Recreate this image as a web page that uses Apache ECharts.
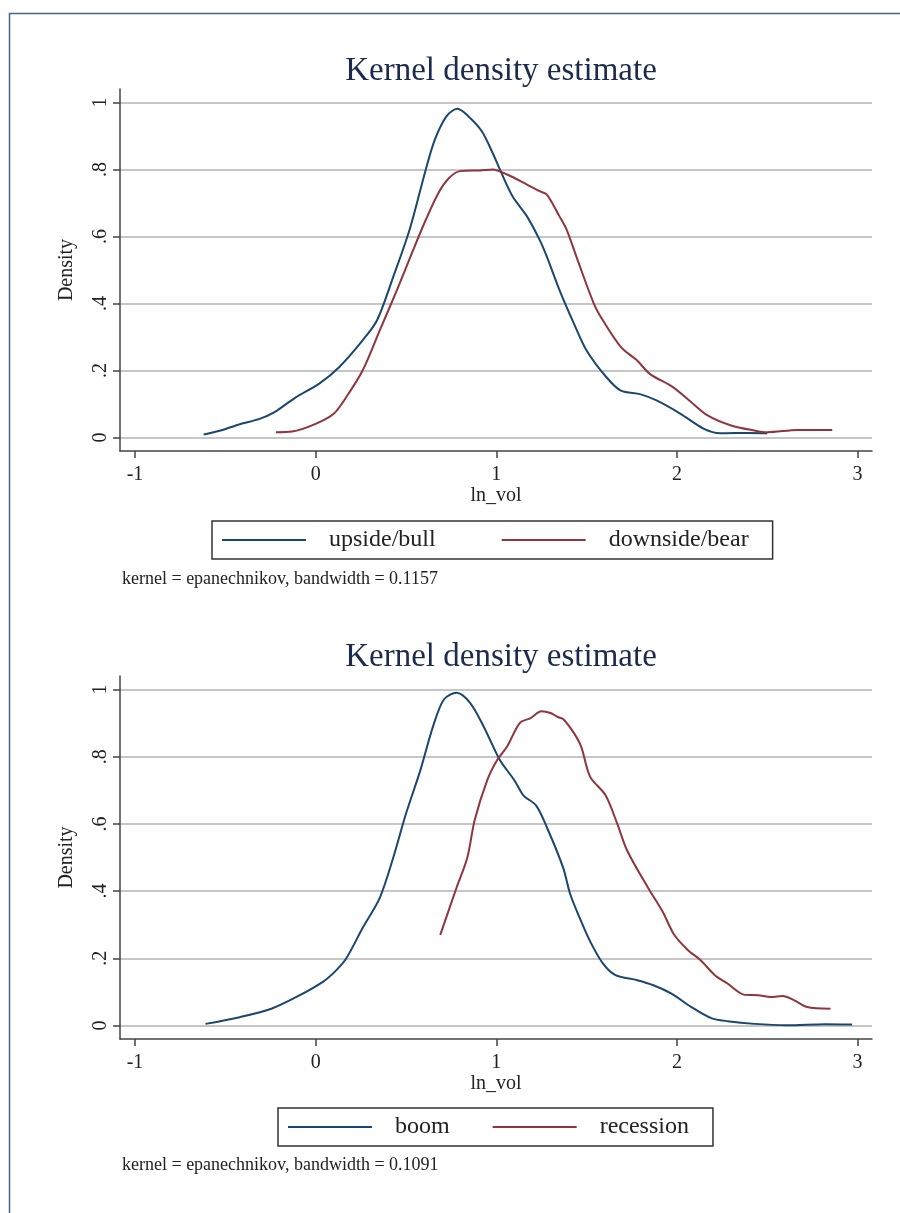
<!DOCTYPE html>
<html>
<head>
<meta charset="utf-8">
<script src="https://cdn.jsdelivr.net/npm/echarts@6/dist/echarts.min.js"></script>
<style>
  html, body { margin: 0; padding: 0; background: #fff; }
  #chart { width: 900px; height: 1213px; }
</style>
</head>
<body>
<div id="chart"></div>
<script>
// density curves, [ln_vol, density]
var upsideBull = [
  [-0.62, 0.009], [-0.52, 0.022], [-0.42, 0.04], [-0.31, 0.056], [-0.23, 0.075], [-0.11, 0.12],
  [0.02, 0.161], [0.13, 0.21], [0.26, 0.29], [0.34, 0.35], [0.43, 0.48], [0.52, 0.62],
  [0.61, 0.80], [0.66, 0.889], [0.725, 0.959], [0.785, 0.981], [0.845, 0.959], [0.92, 0.914],
  [0.98, 0.849], [1.02, 0.80], [1.09, 0.72], [1.17, 0.66], [1.24, 0.59], [1.28, 0.54],
  [1.35, 0.44], [1.43, 0.34], [1.50, 0.26], [1.61, 0.18], [1.69, 0.14], [1.80, 0.129],
  [1.89, 0.11], [2.02, 0.071], [2.15, 0.026], [2.24, 0.013], [2.40, 0.014], [2.50, 0.013]
];
var downsideBear = [
  [-0.22, 0.016], [-0.13, 0.018], [0.0, 0.041], [0.10, 0.071], [0.17, 0.121], [0.26, 0.20],
  [0.355, 0.32], [0.45, 0.44], [0.54, 0.56], [0.61, 0.65], [0.68, 0.73], [0.74, 0.775],
  [0.80, 0.795], [0.91, 0.797], [0.98, 0.80], [1.06, 0.785], [1.17, 0.755], [1.24, 0.735],
  [1.28, 0.725], [1.35, 0.66], [1.39, 0.62], [1.45, 0.53], [1.54, 0.40], [1.59, 0.35],
  [1.69, 0.27], [1.78, 0.23], [1.85, 0.19], [1.98, 0.15], [2.07, 0.11], [2.17, 0.066],
  [2.30, 0.036], [2.43, 0.021], [2.50, 0.016], [2.67, 0.023], [2.86, 0.023]
];
var boom = [
  [-0.61, 0.005], [-0.42, 0.025], [-0.245, 0.05], [-0.106, 0.085], [0.04, 0.13], [0.115, 0.165],
  [0.17, 0.20], [0.26, 0.29], [0.355, 0.38], [0.43, 0.50], [0.50, 0.63], [0.58, 0.76],
  [0.65, 0.89], [0.71, 0.97], [0.78, 0.99], [0.855, 0.96], [0.93, 0.89], [1.02, 0.79],
  [1.10, 0.73], [1.15, 0.685], [1.22, 0.655], [1.28, 0.59], [1.37, 0.47], [1.41, 0.39],
  [1.47, 0.31], [1.52, 0.25], [1.59, 0.185], [1.66, 0.15], [1.78, 0.135], [1.87, 0.12],
  [1.97, 0.095], [2.08, 0.055], [2.19, 0.022], [2.28, 0.013], [2.43, 0.005], [2.61, 0.001],
  [2.82, 0.004], [2.97, 0.003]
];
var recession = [
  [0.69, 0.27], [0.78, 0.41], [0.84, 0.50], [0.88, 0.61], [0.95, 0.73], [1.005, 0.79],
  [1.06, 0.83], [1.13, 0.90], [1.19, 0.915], [1.25, 0.935], [1.30, 0.93], [1.34, 0.918],
  [1.37, 0.912], [1.43, 0.87], [1.47, 0.83], [1.52, 0.74], [1.605, 0.685], [1.67, 0.60],
  [1.725, 0.52], [1.84, 0.41], [1.92, 0.34], [1.985, 0.27], [2.06, 0.225], [2.13, 0.195],
  [2.21, 0.15], [2.28, 0.125], [2.37, 0.092], [2.45, 0.09], [2.52, 0.085], [2.585, 0.088],
  [2.65, 0.075], [2.72, 0.055], [2.85, 0.05]
];

var xTicks = [-1, 0, 1, 2, 3];
var yTicks = [0, 0.2, 0.4, 0.6, 0.8, 1];
var legendTop = ['upside/bull', 'downside/bear'];
var legendBottom = ['boom', 'recession'];
var notes = ['kernel = epanechnikov, bandwidth = 0.1157', 'kernel = epanechnikov, bandwidth = 0.1091'];

var FONT = '"Liberation Serif", "DejaVu Serif", serif';
var BLUE = '#1a476f';
var RED = '#90353b';

var myChart = echarts.init(document.getElementById('chart'));

function yLabel(v) {
  if (v === 0) return '0';
  if (v === 1) return '1';
  return String(+v.toFixed(1)).replace('0.', '.');
}

function makeX(idx) {
  return {
    type: 'value', gridIndex: idx, min: -1.083, max: 3.08,
    name: 'ln_vol', nameLocation: 'middle', nameGap: 33,
    nameTextStyle: { fontFamily: FONT, fontSize: 20, color: '#222' },
    axisLine: { show: true, onZero: false, lineStyle: { color: '#444', width: 1.5 } },
    axisTick: { show: true, length: 7, customValues: xTicks, lineStyle: { color: '#444', width: 1.5 } },
    axisLabel: { customValues: xTicks, fontFamily: FONT, fontSize: 20, color: '#222', margin: 14 },
    splitLine: { show: false }
  };
}

function makeY(idx) {
  return {
    type: 'value', gridIndex: idx, min: -0.04, max: 1.04,
    name: 'Density', nameLocation: 'middle', nameGap: 43, nameRotate: 90,
    nameTextStyle: { fontFamily: FONT, fontSize: 20, color: '#222' },
    axisLine: { show: true, onZero: false, lineStyle: { color: '#444', width: 1.5 } },
    axisTick: { show: true, length: 7, customValues: yTicks, lineStyle: { color: '#444', width: 1.5 } },
    axisLabel: { customValues: yTicks, rotate: 90, formatter: yLabel, fontFamily: FONT, fontSize: 20, color: '#222', margin: 9 },
    splitLine: { show: true, lineStyle: { color: '#c6c6c6', width: 2 } }
  };
}

function makeLegend(names, left, top, gap) {
  return {
    data: names, left: left, top: top,
    orient: 'horizontal', icon: 'rect', itemWidth: 84, itemHeight: 2, itemGap: gap,
    padding: [7, 24, 7, 10],
    borderColor: '#333', borderWidth: 1.5,
    textStyle: { fontFamily: FONT, fontSize: 24, color: '#222', padding: [0, 0, 0, 18] }
  };
}

function makeLine(name, data, color, xi) {
  return {
    name: name, type: 'line', xAxisIndex: xi, yAxisIndex: xi,
    data: data, showSymbol: false, symbol: 'none', smooth: 0.3,
    lineStyle: { color: color, width: 2 }, itemStyle: { color: color },
    emphasis: { disabled: true }
  };
}

var option = {
  backgroundColor: '#fff',
  animation: false,
  title: [
    { text: 'Kernel density estimate', left: 496, top: 50, textAlign: 'center',
      textStyle: { fontFamily: FONT, fontSize: 33, fontWeight: 'normal', color: '#1c2b4d' } },
    { text: 'Kernel density estimate', left: 496, top: 636, textAlign: 'center',
      textStyle: { fontFamily: FONT, fontSize: 33, fontWeight: 'normal', color: '#1c2b4d' } },
    { text: notes[0], left: 122, top: 570, padding: 0,
      textStyle: { fontFamily: FONT, fontSize: 18, fontWeight: 'normal', color: '#222' } },
    { text: notes[1], left: 122, top: 1156, padding: 0,
      textStyle: { fontFamily: FONT, fontSize: 18, fontWeight: 'normal', color: '#222' } }
  ],
  legend: [
    makeLegend(legendTop, 212, 521, 66),
    makeLegend(legendBottom, 278, 1108, 43)
  ],
  grid: [
    { left: 120, right: 28, top: 89, height: 362 },
    { left: 120, right: 28, top: 676, height: 363 }
  ],
  xAxis: [makeX(0), makeX(1)],
  yAxis: [makeY(0), makeY(1)],
  series: [
    makeLine(legendTop[0], upsideBull, BLUE, 0),
    makeLine(legendTop[1], downsideBear, RED, 0),
    makeLine(legendBottom[0], boom, BLUE, 1),
    makeLine(legendBottom[1], recession, RED, 1)
  ],
  graphic: [
    { type: 'rect', left: 7, top: 11, silent: true,
      shape: { width: 910, height: 1220 },
      style: { fill: 'none', stroke: '#3f6790', lineWidth: 1.5 } }
  ]
};

myChart.setOption(option);
</script>
</body>
</html>
